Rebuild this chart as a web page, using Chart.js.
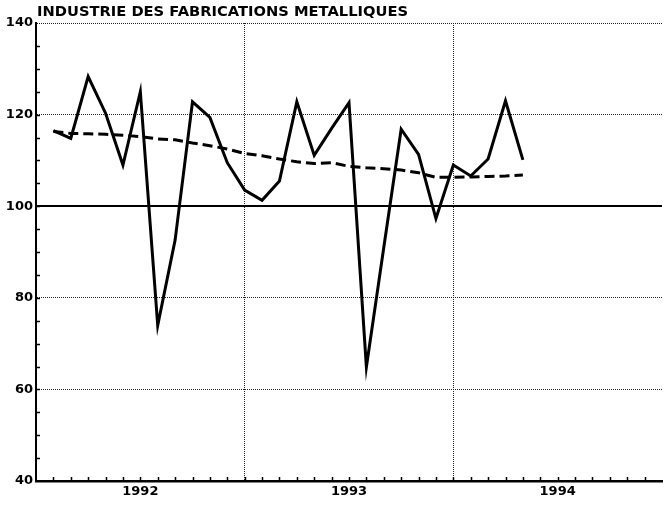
<!DOCTYPE html>
<html>
<head>
<meta charset="utf-8">
<script src="https://cdn.jsdelivr.net/npm/chart.js@4.4.1/dist/chart.umd.min.js"></script>
<style>
  html, body { margin: 0; padding: 0; background: #fff; }
  canvas { display: block; }
</style>
</head>
<body>
<canvas id="chart" width="665" height="505"></canvas>
<script>
// monthly index, Jan 1992 - Apr 1994
const title = 'INDUSTRIE DES FABRICATIONS METALLIQUES';
const months = [
  '1992-01','1992-02','1992-03','1992-04','1992-05','1992-06','1992-07','1992-08','1992-09','1992-10','1992-11','1992-12',
  '1993-01','1993-02','1993-03','1993-04','1993-05','1993-06','1993-07','1993-08','1993-09','1993-10','1993-11','1993-12',
  '1994-01','1994-02','1994-03','1994-04'
];
const indice = [
  116.5, 114.8, 128.3, 120.3, 109.0, 125.0, 74.0, 92.6, 122.8, 119.4, 109.5, 103.5,
  101.3, 105.5, 122.8, 111.1, 117.0, 122.6, 64.9, 91.0, 116.8, 111.3, 97.3, 109.0,
  106.6, 110.3, 123.0, 110.1
];
const tendance = [
  116.3, 115.9, 115.8, 115.7, 115.5, 115.2, 114.7, 114.5, 113.8, 113.2, 112.5, 111.5,
  111.0, 110.3, 109.7, 109.3, 109.5, 108.7, 108.4, 108.2, 107.9, 107.3, 106.3, 106.3,
  106.4, 106.5, 106.6, 106.8
];
const yearLabels = ['1992', '1993', '1994'];
const yTicks = [40, 60, 80, 100, 120, 140];

const toPoints = arr => arr.map((v, i) => ({ x: i + 1, y: v }));

const tickFont = { family: 'DejaVu Sans', size: 13, weight: 'bold' };

// reference line, inner ticks and title
const decor = {
  id: 'decor',
  beforeDatasetsDraw(chart) {
    const { ctx, chartArea: a, scales: { x, y } } = chart;
    ctx.save();
    ctx.strokeStyle = '#000';
    ctx.lineWidth = 2;
    const y100 = Math.round(y.getPixelForValue(100));
    ctx.beginPath();
    ctx.moveTo(a.left, y100);
    ctx.lineTo(a.right, y100);
    ctx.stroke();

    ctx.lineWidth = 1.5;
    ctx.beginPath();
    for (let v = 45; v < 140; v += 5) {
      const py = Math.round(y.getPixelForValue(v)) + 0.5;
      ctx.moveTo(a.left, py);
      ctx.lineTo(a.left + 4, py);
    }
    for (let m = 1; m < 36; m++) {
      const px = Math.round(x.getPixelForValue(m)) + 0.5;
      ctx.moveTo(px, a.bottom);
      ctx.lineTo(px, a.bottom - 4);
    }
    ctx.stroke();
    ctx.restore();
  },
  afterDraw(chart) {
    const { ctx, chartArea: a } = chart;
    ctx.save();
    ctx.fillStyle = '#000';
    ctx.font = 'bold 14.7px "DejaVu Sans", sans-serif';
    ctx.textBaseline = 'alphabetic';
    ctx.textAlign = 'left';
    ctx.fillText(title, a.left + 1, a.top - 7);
    ctx.restore();
  }
};

new Chart(document.getElementById('chart'), {
  type: 'line',
  data: {
    datasets: [
      {
        label: 'indice',
        data: toPoints(indice),
        borderColor: '#000',
        borderWidth: 3,
        pointRadius: 0,
        tension: 0,
      },
      {
        label: 'tendance',
        data: toPoints(tendance),
        borderColor: '#000',
        borderWidth: 3,
        borderDash: [10, 5],
        pointRadius: 0,
        tension: 0,
      },
    ],
  },
  options: {
    responsive: false,
    animation: false,
    layout: { padding: { top: 23, right: 0, left: 0, bottom: 0 } },
    plugins: {
      legend: { display: false },
      tooltip: { enabled: false },
    },
    scales: {
      x: {
        type: 'linear',
        min: 0,
        max: 36,
        afterBuildTicks: s => { s.ticks = [0, 6, 12, 18, 24, 30, 36].map(v => ({ value: v })); },
        afterFit: s => { s.height = 24; },
        ticks: {
          autoSkip: false,
          maxRotation: 0,
          padding: 3,
          color: '#000',
          font: tickFont,
          callback: v => (v % 12 === 6 ? yearLabels[(v - 6) / 12] : ''),
        },
        grid: {
          drawTicks: false,
          lineWidth: 1,
          color: c => (c.tick && (c.tick.value === 12 || c.tick.value === 24) ? '#222' : 'transparent'),
        },
        border: { display: true, color: '#000', width: 2.5, dash: [1, 1] },
      },
      y: {
        min: 40,
        max: 140,
        afterBuildTicks: s => { s.ticks = yTicks.map(v => ({ value: v })); },
        afterFit: s => { s.width = 36; },
        ticks: {
          padding: 3,
          color: '#000',
          font: tickFont,
        },
        grid: {
          drawTicks: false,
          lineWidth: 1,
          color: c => (c.tick && [60, 80, 120, 140].includes(c.tick.value) ? '#222' : 'transparent'),
        },
        border: { display: true, color: '#000', width: 2, dash: [1, 1] },
      },
    },
  },
  plugins: [decor],
});
</script>
</body>
</html>
